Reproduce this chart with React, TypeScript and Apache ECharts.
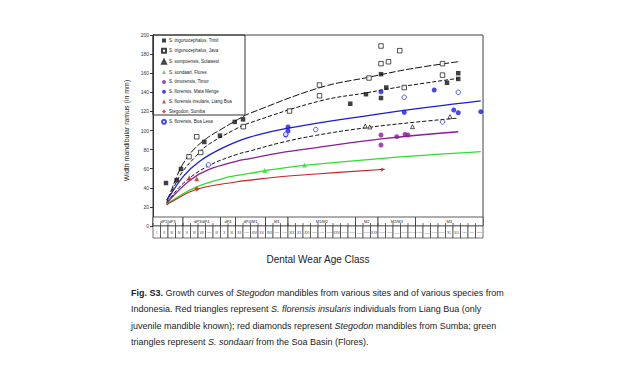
import React, { useEffect, useRef } from "react";
import * as echarts from "echarts";

const FONT = "Liberation Sans, Arial, sans-serif";

const legendNames = [
  "S. trigonocephalus, Trinil",
  "S. trigonocephalus, Java",
  "S. sompoensis, Sulawesi",
  "S. sondaari, Flores",
  "S. timorensis, Timor",
  "S. florensis, Mata Menge",
  "S. florensis insularis, Liang Bua",
  "Stegodon, Sumba",
  "S. florensis, Boa Lesa",
];

// points [age class position, width in mm]
const trinilPts = [[1.73, 45], [3.16, 48], [3.73, 59.7], [6.84, 88], [8.93, 94.6], [10.9, 109], [12.0, 111.7], [26.3, 128], [28.4, 138], [30.4, 159], [31.1, 145], [30.4, 134], [39.2, 150], [40.7, 160], [40.7, 154]];
const javaPts = [[4.8, 72.6], [5.83, 93.5], [6.36, 77], [12.04, 104], [18.2, 120.4], [22.2, 147.6], [22.2, 136.4], [28.8, 155], [30.4, 188.5], [32.9, 183.6], [30.4, 170], [31.4, 172], [33.5, 145], [38.6, 170], [38.6, 158]];
const sulawesiPts = [[28.3, 104.7], [28.9, 103.7], [34.6, 104], [39.6, 114.5]];
const sondaariPts = [[14.9, 58], [20.2, 63.9]];
const timorPts = [[30.4, 95.3], [30.4, 84.8], [32.5, 93.5], [33.6, 96], [34.0, 95.3]];
const mataMengePts = [[18.0, 103.7], [18.0, 99.5], [17.7, 95.3], [30.4, 140.6], [37.5, 142.4], [33.5, 119], [40.1, 121.5], [40.7, 118.6], [43.7, 119.7]];
const liangBuaPts = [[4.84, 50.6], [5.83, 49.5]];
const sumbaPts = [[5.83, 38.7]];
const boaLesaPts = [[7.4, 64], [21.7, 101], [17.7, 96], [33.5, 134.8], [40.7, 140], [38.6, 109]];

// growth curves
const javaCurve = [[1.83, 27], [2.27, 34], [3.16, 51.6], [4.04, 65.6], [5.37, 79.6], [7.16, 91.8], [8.93, 100.5], [11.6, 112.8], [12.9, 118], [22.3, 145], [28.9, 156], [34.3, 164.5], [40.7, 172]];
const trinilCurve = [[1.83, 25], [2.93, 43], [4.04, 58], [5.6, 72], [7.16, 84], [10.9, 101], [12.9, 108], [22.3, 131], [28.5, 139.5], [33.6, 146.5], [40.7, 154.6]];
const sulawesiCurve = [[1.83, 24], [4.04, 44.7], [7.4, 63], [11.2, 75], [12.9, 78.5], [16.9, 87], [21.8, 95], [28.5, 103], [34.7, 108.5], [40.7, 113]];
const mataMengeCurve = [[1.83, 27], [2.27, 32], [4.04, 52], [6.27, 68], [9.37, 82], [12.9, 93], [18, 102.5], [30.7, 118], [43.7, 131]];
const timorCurve = [[1.83, 23], [2.27, 28], [4.93, 48], [7.4, 59], [11.2, 68], [12.9, 70.5], [16.9, 76.5], [21.8, 82], [30.7, 91.5], [40.7, 98.7]];
const sondaariCurve = [[1.83, 22.5], [2.27, 25.5], [5.83, 41], [10.3, 51.6], [12.9, 55], [14.9, 57.9], [20.2, 63.5], [30.7, 70.9], [43.7, 77.8]];
const liangBuaCurve = [[1.83, 22], [2.27, 24.5], [5.83, 38.4], [11.2, 46.4], [12.9, 48], [16.9, 51.6], [21.8, 54.5], [30.9, 59.4]];

const groupLabels = ["dP2/dP3", "dP3/dP4", "dP4", "dP4/M1", "M1", "M1/M2", "M2", "M2/M3", "M3"];
const groupStarts = [0, 4, 9, 11, 15, 18, 27, 30, 35];
const groupEnds = [4, 9, 11, 15, 18, 27, 30, 35, 44];
const classLabels = ["I", "II", "III", "IV", "V", "VI", "VII", "VIII", "IX", "X", "XI", "XII", "XIII", "XIV", "XV", "XVI", "XVII", "XVIII", "XIX", "XX", "XXI", "XXII", "XXIII", "XXIV", "XXV", "XXVI", "XXVII", "XXVIII", "XXIX", "XXX", "XXXI", "XXXII", "XXXIII", "XXXIV", "XXXV", "XXXVI", "XXXVII", "XXXVIII", "XXXIX", "XL", "XLI", "XLII", "XLIII", "XLIV"];
const yTicks = [0, 20, 40, 60, 80, 100, 120, 140, 160, 180, 200];

const captionLines = [
  "{b|Fig. S3.} Growth curves of {i|Stegodon} mandibles from various sites and of various species from",
  "Indonesia. Red triangles represent {i|S. florensis insularis} individuals from Liang Bua (only",
  "juvenile mandible known); red diamonds represent {i|Stegodon} mandibles from Sumba; green",
  "triangles represent {i|S. sondaari} from the Soa Basin (Flores).",
];

const BLUE = "#1a1ae0";
const PURPLE = "#8a1d96";
const GREEN = "#2ee02e";
const RED = "#cc2020";

function scatter(name: string, data: number[][], symbol: string, size: number, color: string, border?: string) {
  return {
    name,
    type: "scatter",
    data,
    symbol,
    symbolSize: size,
    itemStyle: border ? { color: "#fff", borderColor: border, borderWidth: 0.9 } : { color },
    z: 5,
  };
}

function curve(data: any[], color: string, dash: any, extra: any = {}) {
  return {
    type: "line",
    data,
    smooth: 0.4,
    symbol: "none",
    lineStyle: { color, width: 1, type: dash },
    z: 3,
    ...extra,
  };
}

export default function App() {
  const ref = useRef<HTMLDivElement>(null);
  useEffect(() => {
    document.body.style.margin = "0";
    const chart = echarts.init(ref.current!, null, { renderer: "svg" });
    const redCurveData: any[] = liangBuaCurve.map((p, i) =>
      i === liangBuaCurve.length - 1
        ? { value: p, symbol: "arrow", symbolSize: [3, 4], symbolRotate: -84, itemStyle: { color: RED } }
        : p
    );
    const option: any = {
      animation: false,
      backgroundColor: "#fff",
      textStyle: { fontFamily: FONT },
      grid: { left: 153, right: 157, top: 35, bottom: 154, show: true, borderColor: "#444", borderWidth: 1, backgroundColor: "transparent" },
      xAxis: {
        type: "value",
        min: 0,
        max: 44,
        interval: 1,
        axisLine: { show: false },
        axisTick: { show: false },
        axisLabel: { show: false },
        splitLine: { show: false },
        name: "Dental Wear Age Class",
        nameLocation: "middle",
        nameGap: 28,
        nameTextStyle: { fontSize: 10, color: "#222", fontFamily: FONT },
      },
      yAxis: {
        type: "value",
        min: 0,
        max: 200,
        interval: 20,
        axisLine: { show: true, lineStyle: { color: "#333", width: 1 } },
        axisTick: { show: true, length: 3, lineStyle: { color: "#333" } },
        axisLabel: { fontSize: 5, color: "#333", margin: 4, fontFamily: FONT, formatter: (v: number) => (yTicks.includes(v) ? String(v) : "") },
        splitLine: { show: false },
        name: "Width mandibular ramus (in mm)",
        nameLocation: "middle",
        nameGap: 16,
        nameRotate: 90,
        nameTextStyle: { fontSize: 7, color: "#222", fontFamily: FONT },
      },
      legend: {
        data: legendNames,
        orient: "vertical",
        left: 161,
        top: 38,
        itemWidth: 4,
        itemHeight: 4,
        itemGap: 4.85,
        padding: 0,
        textStyle: { fontSize: 4.5, lineHeight: 4, color: "#222", fontFamily: FONT, padding: [0, 0, 0, -2] },
      },
      graphic: [
        { type: "rect", shape: { x: 153, y: 35, width: 92, height: 80 }, style: { fill: "none", stroke: "#333", lineWidth: 1 }, z: 1 },
        ...captionLines.map((t, i) => ({
          type: "text",
          x: 131,
          y: 293 + i * 16.4,
          style: {
            text: t,
            fontSize: 9,
            fontFamily: FONT,
            fill: "#222",
            verticalAlign: "middle",
            rich: {
              b: { fontWeight: "bold", fontSize: 9, fontFamily: FONT, fill: "#222" },
              i: { fontStyle: "italic", fontSize: 9, fontFamily: FONT, fill: "#222" },
            },
          },
        })),
      ],
      series: [
        // age group row
        {
          type: "custom",
          silent: true,
          clip: false,
          data: groupStarts.map((s, i) => [s, groupEnds[i], 0]),
          encode: { x: [0, 1], y: 2 },
          z: 6,
          renderItem: (params: any, api: any) => {
            const s = api.coord([api.value(0), 0]);
            const e = api.coord([api.value(1), 0]);
            return {
              type: "group",
              children: [
                { type: "rect", shape: { x: s[0], y: s[1] - 9, width: e[0] - s[0], height: 9 }, style: { fill: "#fff", stroke: "#333", lineWidth: 0.8 } },
                { type: "text", style: { text: groupLabels[params.dataIndex], x: (s[0] + e[0]) / 2, y: s[1] - 4.5, align: "center", verticalAlign: "middle", fontSize: 4, fontFamily: FONT, fill: "#222" } },
              ],
            };
          },
        },
        // age class cells row
        {
          type: "custom",
          silent: true,
          clip: false,
          data: classLabels.map((_, i) => [i, i + 1, 0]),
          encode: { x: [0, 1], y: 2 },
          z: 6,
          renderItem: (params: any, api: any) => {
            const s = api.coord([api.value(0), 0]);
            const e = api.coord([api.value(1), 0]);
            const label = classLabels[params.dataIndex];
            const fs = Math.min(3.2, 6 / (label.length * 0.6));
            return {
              type: "group",
              children: [
                { type: "rect", shape: { x: s[0], y: s[1], width: e[0] - s[0], height: 12 }, style: { fill: "#fff", stroke: "#333", lineWidth: 0.7 } },
                { type: "line", shape: { x1: s[0], y1: s[1], x2: s[0], y2: s[1] - 3 }, style: { stroke: "#333", lineWidth: 0.7 } },
                { type: "text", style: { text: label, x: (s[0] + e[0]) / 2, y: s[1] + 6.5, align: "center", verticalAlign: "middle", fontSize: fs, fontFamily: FONT, fill: "#333" } },
              ],
            };
          },
        },
        curve(javaCurve, "#111", [7, 2]),
        curve(trinilCurve, "#111", [4, 2]),
        curve(sulawesiCurve, "#111", [4, 2]),
        curve(mataMengeCurve, BLUE, "solid", { lineStyle: { color: BLUE, width: 1.3 } }),
        curve(timorCurve, PURPLE, "solid", { lineStyle: { color: PURPLE, width: 1.3 } }),
        curve(sondaariCurve, GREEN, "solid", { lineStyle: { color: GREEN, width: 1.3 } }),
        {
          ...curve(redCurveData, RED, "solid", { lineStyle: { color: RED, width: 1.1 } }),
          showSymbol: true,
          symbol: "none",
          itemStyle: { color: RED },
        },
        scatter(legendNames[0], trinilPts, "rect", 4.5, "#111"),
        scatter(legendNames[1], javaPts, "rect", 4.5, "#fff", "#111"),
        scatter(legendNames[2], sulawesiPts, "triangle", 4, "#fff", "#111"),
        scatter(legendNames[3], sondaariPts, "triangle", 5, GREEN),
        scatter(legendNames[4], timorPts, "circle", 5, PURPLE),
        scatter(legendNames[5], mataMengePts, "circle", 5, BLUE),
        scatter(legendNames[6], liangBuaPts, "triangle", 5, RED),
        scatter(legendNames[7], sumbaPts, "diamond", 5, RED),
        scatter(legendNames[8], boaLesaPts, "circle", 4.5, "#fff", BLUE),
      ],
    };
    chart.setOption(option);
    return () => chart.dispose();
  }, []);
  return <div ref={ref} style={{ position: "absolute", left: 0, top: 0, width: 640, height: 380 }} />;
}
